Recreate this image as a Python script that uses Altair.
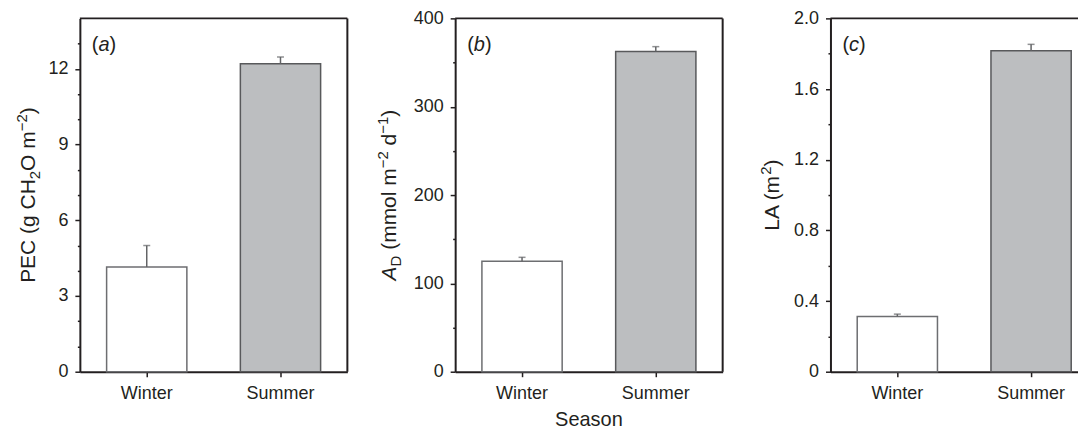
import altair as alt
import pandas as pd

# ---------------- data ----------------
seasons = ["Winter", "Summer"]

pec_mean = [4.15, 12.2]
pec_se = [0.85, 0.27]

ad_mean = [125.0, 362.5]
ad_se = [4.5, 5.5]

la_mean = [0.313, 1.817]
la_se = [0.013, 0.036]

pec_major = [0, 3, 6, 9, 12]
pec_minor = [1, 2, 4, 5, 7, 8, 10, 11, 13]
ad_major = [0, 100, 200, 300, 400]
ad_minor = [50, 150, 250, 350]
la_major = [0, 0.4, 0.8, 1.2, 1.6, 2.0]
la_minor = [0.2, 0.6, 1.0, 1.4, 1.8]

fills = ["#ffffff", "#bcbec0"]
strokes = ["#6d6e71", "#58595b"]

INK = "#231f20"
FONT = "Liberation Sans"
W, H = 268, 354

# Arial / Liberation Sans advance widths (1/1000 em)
ADV = {' ': 278, '(': 333, ')': 333, 'P': 667, 'E': 667, 'C': 722, 'g': 556,
       'H': 722, 'O': 778, 'm': 833, '2': 556, '−': 584, 'd': 556, 'A': 667,
       'D': 722, 'o': 556, 'l': 222, 'L': 556, '1': 556, 'a': 556, 'b': 556,
       'c': 500, 'S': 667, 'e': 556, 's': 500, 'n': 556}


def tw(s, size):
    return sum(ADV.get(ch, 556) for ch in s) * size / 1000.0


one = pd.DataFrame({"k": [0]})


def rich_text(pieces, x, y, angle=0, center=True):
    """pieces: (text, size, style, shift). Returns list of text layers."""
    total = sum(tw(t, s) for t, s, _, _ in pieces)
    pos = -total / 2 if center else 0
    layers = []
    for t, s, st, sh in pieces:
        lead = len(t) - len(t.lstrip(" "))
        pos += tw(" " * lead, s)
        body = t.strip(" ")
        kw = dict(text=body, font=FONT, fontSize=s, fontStyle=st, align="left",
                  baseline="alphabetic", color=INK, dx=pos, dy=sh)
        if angle:
            kw["angle"] = angle
        layers.append(alt.Chart(one).mark_text(**kw).encode(
            x=alt.value(x), y=alt.value(y)))
        pos += tw(t[lead:], s)
    return layers


def panel(mean, se, ymax, major, minor, fmt, title_pieces, title_x, letter,
          width, extra=None):
    df = pd.DataFrame({
        "season": seasons,
        "mean": mean,
        "upper": [m + s for m, s in zip(mean, se)],
    })
    major_js = "[" + ",".join(str(v) for v in major) + "]"
    test = f"indexof({major_js}, datum.value) >= 0"
    yaxis = alt.Axis(
        values=sorted(major + minor),
        labelExpr=f"{test} ? (datum.value === 0 ? '0' : format(datum.value, '{fmt}')) : ''",
        tickSize={"condition": {"test": test, "value": 5}, "value": 2.5},
        title=None, grid=False,
        domainColor=INK, domainWidth=2, tickColor=INK, tickWidth=1.5,
        labelFont=FONT, labelFontSize=18, labelColor=INK, labelPadding=7,
    )
    yscale = alt.Scale(domain=[0, ymax], nice=False, zero=True)
    xaxis = alt.Axis(
        title=None, labelAngle=0, tickSize=5, grid=False,
        domainColor=INK, domainWidth=2, tickColor=INK, tickWidth=1.5,
        labelFont=FONT, labelFontSize=18, labelColor=INK, labelPadding=8,
    )
    xscale = alt.Scale(paddingInner=0.4, paddingOuter=0.2)
    X = alt.X("season:N", sort=seasons, scale=xscale, axis=xaxis)

    base = alt.Chart(df)
    bars = base.mark_bar(strokeWidth=1.5).encode(
        x=X,
        y=alt.Y("mean:Q", scale=yscale, axis=yaxis),
        color=alt.Color("season:N", scale=alt.Scale(domain=seasons, range=fills), legend=None),
        stroke=alt.Stroke("season:N", scale=alt.Scale(domain=seasons, range=strokes), legend=None),
    )
    err = base.mark_rule(color="#636466", strokeWidth=1.5).encode(
        x=X,
        y=alt.Y("mean:Q", scale=yscale, axis=yaxis),
        y2="upper:Q",
    )
    cap = base.mark_tick(color="#636466", thickness=1.5, size=7).encode(
        x=X,
        y=alt.Y("upper:Q", scale=yscale, axis=yaxis),
    )
    layers = [bars, err, cap]
    # frame: top and right edges
    layers.append(alt.Chart(one).mark_rule(color=INK, strokeWidth=2).encode(
        x=alt.value(0), x2=alt.value(width), y=alt.value(0)))
    layers.append(alt.Chart(one).mark_rule(color=INK, strokeWidth=2).encode(
        x=alt.value(width), y=alt.value(0), y2=alt.value(H)))
    layers += rich_text(title_pieces, title_x, H / 2, angle=270)
    layers += rich_text([("(", 20, "normal", 0), (letter, 20, "italic", 0),
                         (")", 20, "normal", 0)], 12, 33, center=False)
    if extra:
        layers += extra
    return alt.layer(*layers).properties(width=width, height=H)


title_a = [("PEC (g CH", 21, "normal", 0), ("2", 15, "normal", 5),
           ("O m", 21, "normal", 0), ("−2", 15, "normal", -8),
           (")", 21, "normal", 0)]
title_b = [("A", 21, "italic", 0), ("D", 15, "normal", 5),
           (" (mmol m", 21, "normal", 0), ("−2", 15, "normal", -8),
           (" d", 21, "normal", 0), ("−1", 15, "normal", -8),
           (")", 21, "normal", 0)]
title_c = [("LA (m", 21, "normal", 0), ("2", 15, "normal", -8),
           (")", 21, "normal", 0)]

season_title = rich_text([("Season", 20, "normal", 0)], W / 2, H + 54)

pa = panel(pec_mean, pec_se, 14, pec_major, pec_minor, "d", title_a, -45, "a", W)
pb = panel(ad_mean, ad_se, 400, ad_major, ad_minor, "d", title_b, -59, "b", W,
           extra=season_title)
pc = panel(la_mean, la_se, 2.0, la_major, la_minor, ".1f", title_c, -52, "c", W)

# negative right padding crops panel (c) at the page edge, like the original
chart = alt.hconcat(pa, pb, pc, spacing=108, bounds="flush").properties(
    padding={"left": 6, "top": 0, "right": -22, "bottom": 0}
).configure_view(stroke="transparent")

chart.save("out.html", embed_options={"renderer": "svg", "actions": False})
